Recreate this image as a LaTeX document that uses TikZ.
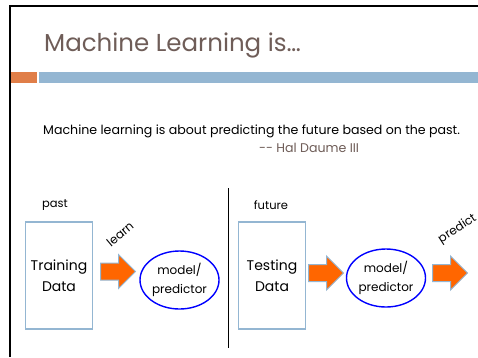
\documentclass[tikz,border=0pt]{standalone}
\usepackage{fontspec}
\setmainfont{Poppins}
\usetikzlibrary{shapes.geometric,shapes.arrows}
\definecolor{titlebrown}{HTML}{6F5D58}
\definecolor{barorange}{HTML}{E07E48}
\definecolor{barblue}{HTML}{94B6D2}
\definecolor{arroworange}{HTML}{FF6600}
\tikzset{
  databox/.style={draw=barblue, line width=1.3pt, minimum width=67pt, minimum height=107pt, align=center, font=\fontsize{14}{21}\selectfont, inner sep=0pt},
  modelcircle/.style={draw=blue, line width=1.4pt, ellipse, minimum width=79pt, minimum height=58pt, align=center, font=\fontsize{12}{19.5}\selectfont, inner sep=0pt},
  blockarrow/.style={single arrow, draw=barblue, line width=1pt, fill=arroworange, minimum height=35pt, inner xsep=0pt, inner ysep=8pt, single arrow head extend=8.5pt, single arrow tip angle=90, anchor=tail},
  label/.style={font=\fontsize{11.5}{14}\selectfont, inner sep=0pt},
}
\begin{document}
\begin{tikzpicture}[x=1pt,y=-1pt]
\useasboundingbox (0,0) rectangle (478,357);
\fill[white] (0,0) rectangle (478,357);
% slide frame
\draw[line width=2pt] (10,357) -- (10,6) -- (478,6);
% title
\node[anchor=west, text=titlebrown, font=\fontsize{24.5}{28}\selectfont, inner sep=0pt] (title) at (44,45) {Machine Learning is…};
% bars
\fill[barorange] (11,72) rectangle (37,83);
\fill[barblue] (39,72) rectangle (478,83);
% quote
\node[anchor=west, font=\fontsize{12.6}{15}\selectfont, inner sep=0pt] (quote) at (43,131) {Machine learning is about predicting the future based on the past.};
\node[anchor=west, text=titlebrown, font=\fontsize{12.6}{15}\selectfont, inner sep=0pt] (author) at (259,148) {-{}- Hal Daume III};
% labels
\node[label] (past) at (55,205) {past};
\node[label] (future) at (271,205) {future};
% boxes
\node[databox] (train) at (59,275.5) {Training\\Data};
\node[databox] (test) at (272,275.5) {Testing\\Data};
% models
\node[modelcircle] (m1) at (179.5,280) {model/\\predictor};
\node[modelcircle] (m2) at (386,278) {model/\\predictor};
% arrows
\node[blockarrow] (a1) at (100,271.5) {};
\node[blockarrow] (a2) at (308,273) {};
\node[blockarrow] (a3) at (432,273) {};
\node[label, rotate=40, font=\fontsize{12}{14}\selectfont] (learn) at (120,234) {learn};
\node[label, rotate=33, font=\fontsize{12}{14}\selectfont] (predict) at (457.5,229) {predict};
% divider
\coordinate (dtop) at (228,188);
\coordinate (dbot) at (228,348);
\draw[line width=0.8pt] (dtop) -- (dbot);
\end{tikzpicture}
\end{document}
